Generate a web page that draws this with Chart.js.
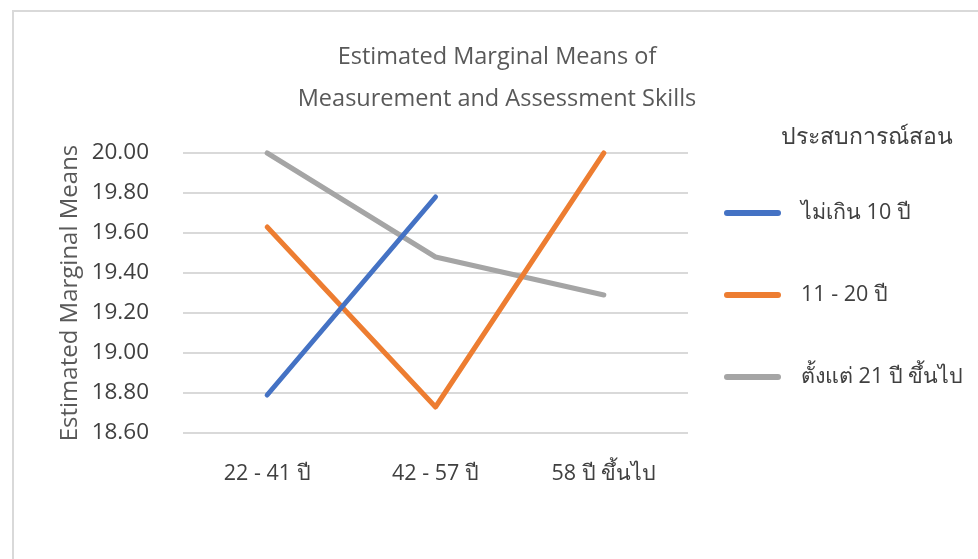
<!DOCTYPE html>
<html>
<head>
<meta charset="utf-8">
<script src="https://cdn.jsdelivr.net/npm/chart.js@4.4.0/dist/chart.umd.min.js"></script>
<style>
  html, body { margin: 0; padding: 0; background: #fff; }
  #wrap { position: absolute; left: 12px; top: 10px; width: 980px; height: 560px; border: 2px solid #d9d9d9; box-sizing: border-box; }
  #box { position: absolute; left: 0; top: 0; width: 978px; height: 559px; }
</style>
</head>
<body>
<div id="wrap"></div>
<div id="box"><canvas id="chartEMM"></canvas></div>
<script>
// categories (age groups) and series (teaching experience)
var ageGroups = ["22 - 41 ปี", "42 - 57 ปี", "58 ปี ขึ้นไป"];
var seriesNames = ["ไม่เกิน 10 ปี", "11 - 20 ปี", "ตั้งแต่ 21 ปี ขึ้นไป"];
var valsUpTo10 = [18.79, 19.78, null];
var vals11to20 = [19.63, 18.73, 20.00];
var vals21up = [20.00, 19.48, 19.29];
var yTicks = [18.60, 18.80, 19.00, 19.20, 19.40, 19.60, 19.80, 20.00];
var legendTitle = "ประสบการณ์สอน";

var colores = ["#4472C4", "#ED7D31", "#A5A5A5"];
var FONT = "'Open Sans', 'Noto Sans', sans-serif";

var seriesVals = [valsUpTo10, vals11to20, vals21up];
var datasets = seriesNames.map(function (nombre, i) {
    return {
        label: nombre,
        data: seriesVals[i],
        borderColor: colores[i],
        backgroundColor: colores[i],
        borderWidth: 5,
        pointRadius: 0,
        borderCapStyle: 'round',
        borderJoinStyle: 'round',
        tension: 0,
        clip: 4
    };
});

// legend on the right, drawn from the datasets (Excel-like spacing)
var legendDerecha = {
    id: 'legendDerecha',
    afterDraw: function (chart) {
        var ctx = chart.ctx;
        var area = chart.chartArea;
        var x0 = area.right + 36;
        ctx.save();
        ctx.textBaseline = 'middle';
        ctx.fillStyle = "#404040";
        ctx.font = "23px " + FONT;
        ctx.textAlign = 'center';
        ctx.fillText(legendTitle, x0 + 143, area.top - 16);
        ctx.textAlign = 'left';
        ctx.font = "21.5px " + FONT;
        chart.data.datasets.forEach(function (ds, i) {
            var y = area.top + 60 + i * 82;
            ctx.strokeStyle = ds.borderColor;
            ctx.lineWidth = 6;
            ctx.lineCap = 'round';
            ctx.beginPath();
            ctx.moveTo(x0 + 3, y);
            ctx.lineTo(x0 + 54, y);
            ctx.stroke();
            ctx.fillStyle = "#404040";
            ctx.fillText(ds.label, x0 + 77, y);
        });
        ctx.restore();
    }
};

new Chart("chartEMM", {
    type: "line",
    data: { labels: ageGroups, datasets: datasets },
    plugins: [legendDerecha],
    options: {
        responsive: true,
        maintainAspectRatio: false,
        animation: false,
        layout: { padding: { top: 0, left: 16, right: 0, bottom: 0 } },
        plugins: {
            title: {
                display: true,
                text: ["Estimated Marginal Means of", "Measurement and Assessment Skills"],
                color: "#595959",
                font: { family: FONT, size: 23.5, weight: 'normal', lineHeight: 42 / 23.5 },
                padding: { top: 36, bottom: 33 }
            },
            legend: { display: false },
            tooltip: { enabled: false }
        },
        scales: {
            x: {
                offset: true,
                grid: { display: false },
                border: { display: false },
                ticks: { color: "#404040", font: { family: FONT, size: 21.5 }, padding: 20 },
                afterFit: function (s) { s.height = 126; }
            },
            y: {
                min: 18.6,
                max: 20.0,
                afterBuildTicks: function (s) { s.ticks = yTicks.map(function (v) { return { value: v }; }); },
                grid: { color: "#d9d9d9", lineWidth: 2, drawTicks: false },
                border: { display: false },
                ticks: {
                    color: "#404040",
                    font: { family: FONT, size: 22.5 },
                    padding: 34,
                    callback: function (v) { return Number(v).toFixed(2); }
                },
                title: {
                    display: true,
                    text: "Estimated Marginal Means",
                    color: "#595959",
                    font: { family: FONT, size: 24 },
                    padding: { top: 40, bottom: 0 }
                },
                afterFit: function (s) { s.width = 167; }
            },
            // empty right axis only reserves room for the legend
            yLegend: {
                position: 'right',
                display: true,
                grid: { display: false },
                border: { display: false },
                ticks: { display: false },
                afterFit: function (s) { s.width = 290; }
            }
        }
    }
});
</script>
</body>
</html>
